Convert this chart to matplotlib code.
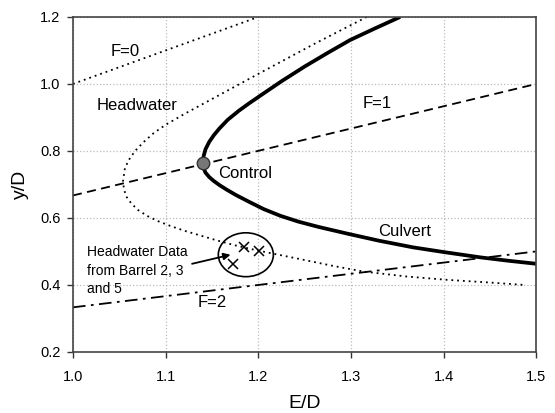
import matplotlib.pyplot as plt
from matplotlib.patches import Ellipse

plt.rcParams['font.family'] = ['Liberation Sans', 'DejaVu Sans']

# Froude number lines
f0_x = [1.0, 1.2]
f0_y = [1.0, 1.2]
f1_x = [1.0, 1.5]
f1_y = [0.667, 1.0]
f2_x = [1.0, 1.5]
f2_y = [0.333, 0.5]

# culvert curve
culvert_x = [1.353, 1.326, 1.299, 1.275, 1.250, 1.225, 1.200, 1.190, 1.179, 1.167,
             1.158, 1.152, 1.147, 1.143, 1.141, 1.140, 1.141, 1.143, 1.147, 1.152,
             1.158, 1.166, 1.176, 1.190, 1.206, 1.224, 1.243, 1.265, 1.296, 1.330,
             1.367, 1.400, 1.440, 1.470, 1.500]
culvert_y = [1.200, 1.166, 1.131, 1.093, 1.052, 1.008, 0.961, 0.942, 0.920, 0.893,
             0.867, 0.847, 0.827, 0.805, 0.785, 0.764, 0.748, 0.735, 0.722, 0.710,
             0.698, 0.684, 0.668, 0.648, 0.626, 0.606, 0.589, 0.573, 0.553, 0.532,
             0.512, 0.498, 0.482, 0.472, 0.463]

# headwater curve
head_x = [1.317, 1.260, 1.200, 1.150, 1.120, 1.100, 1.087, 1.076, 1.067, 1.060,
          1.056, 1.054, 1.055, 1.058, 1.063, 1.070, 1.080, 1.092, 1.106, 1.121,
          1.138, 1.155, 1.175, 1.197, 1.220, 1.245, 1.280, 1.313, 1.360, 1.404,
          1.450, 1.486]
head_y = [1.200, 1.119, 1.030, 0.955, 0.910, 0.878, 0.853, 0.826, 0.800, 0.772,
          0.748, 0.710, 0.685, 0.662, 0.643, 0.624, 0.606, 0.590, 0.575, 0.561,
          0.547, 0.533, 0.518, 0.504, 0.491, 0.477, 0.457, 0.440, 0.425, 0.415,
          0.407, 0.400]

# control point and measured data
control_x, control_y = 1.140, 0.764
data_x = [1.184, 1.201, 1.173]
data_y = [0.513, 0.501, 0.463]

fig = plt.figure(figsize=(5.55, 4.13), dpi=100)
ax = fig.add_axes([0.1315, 0.148, 0.835, 0.811])

ax.plot(f0_x, f0_y, color='black', lw=1.3, linestyle=(0, (1, 2.2)))
ax.plot(head_x, head_y, color='black', lw=1.3, linestyle=(0, (1, 2.2)))
ax.plot(f1_x, f1_y, color='black', lw=1.3, linestyle=(0, (5, 3)))
ax.plot(f2_x, f2_y, color='black', lw=1.3, linestyle=(0, (7, 3, 1.5, 3)))
ax.plot(culvert_x, culvert_y, color='black', lw=2.7, solid_capstyle='butt',
        solid_joinstyle='round')
ax.plot(control_x, control_y, 'o', color='#777777', markeredgecolor='#333333',
        markersize=9, markeredgewidth=1)
ax.plot(data_x, data_y, 'x', color='black', markersize=7.5, markeredgewidth=1.1)

ax.add_patch(Ellipse((1.1865, 0.490), 0.0594, 0.131, fill=False,
                     edgecolor='black', lw=1.2))
ax.annotate('', xy=(1.170, 0.490), xytext=(1.1285, 0.463),
            arrowprops=dict(arrowstyle='-|>', color='black', lw=1.3,
                            mutation_scale=10, shrinkA=0, shrinkB=0))

ax.text(1.056, 1.096, 'F=0', fontsize=12, ha='center', va='center')
ax.text(1.026, 0.937, 'Headwater', fontsize=12, ha='left', va='center')
ax.text(1.312, 0.943, 'F=1', fontsize=12, ha='left', va='center')
ax.text(1.157, 0.734, 'Control', fontsize=12, ha='left', va='center')
ax.text(1.329, 0.558, 'Culvert', fontsize=12, ha='left', va='center')
ax.text(1.135, 0.346, 'F=2', fontsize=12, ha='left', va='center')
ax.text(1.015, 0.442, 'Headwater Data\nfrom Barrel 2, 3\nand 5', fontsize=10,
        ha='left', va='center', linespacing=1.4)

ax.set_xlim(1.0, 1.5)
ax.set_ylim(0.2, 1.2)
ax.set_xticks([1.0, 1.1, 1.2, 1.3, 1.4, 1.5])
ax.set_yticks([0.2, 0.4, 0.6, 0.8, 1.0, 1.2])
ax.set_xticklabels(['1.0', '1.1', '1.2', '1.3', '1.4', '1.5'])
ax.set_yticklabels(['0.2', '0.4', '0.6', '0.8', '1.0', '1.2'])
ax.tick_params(axis='both', labelsize=10.5, direction='out', length=4, width=1, color='#333333')
ax.tick_params(axis='x', pad=9)
ax.tick_params(axis='y', pad=5)
ax.grid(True, color='#bbbbbb', linestyle=':', linewidth=0.9)
ax.set_axisbelow(True)
for s in ax.spines.values():
    s.set_color('#444444')
    s.set_linewidth(1.2)

ax.set_xlabel('E/D', fontsize=14, labelpad=8)
ax.set_ylabel('y/D', fontsize=14, labelpad=8)

fig.savefig('out.png', dpi=100, facecolor='white')
